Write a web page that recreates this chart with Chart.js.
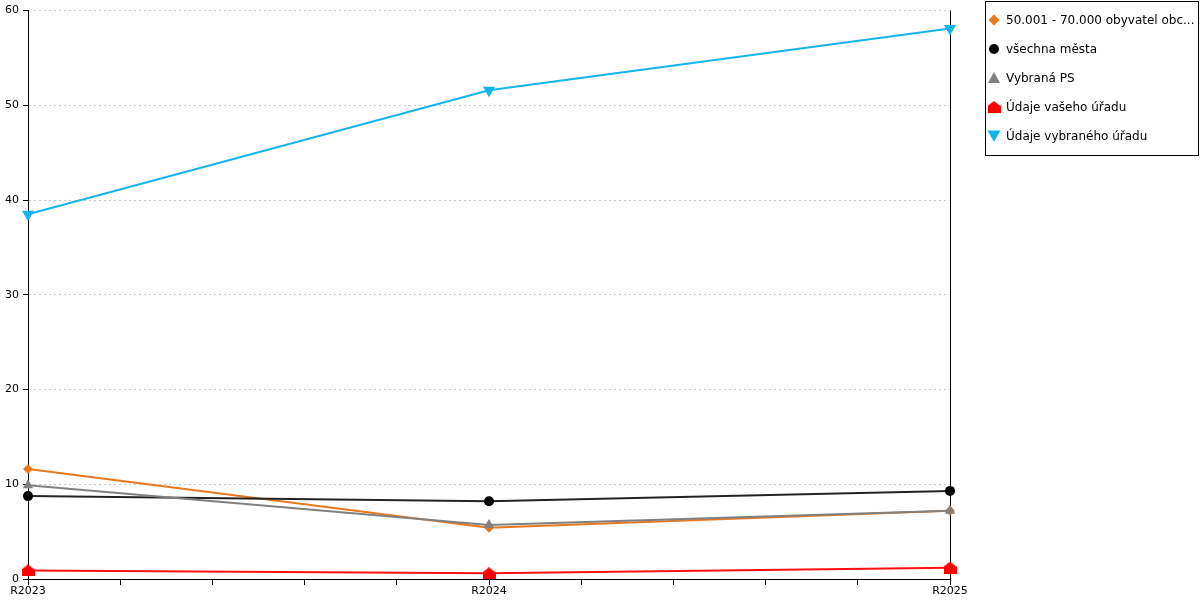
<!DOCTYPE html>
<html>
<head>
<meta charset="utf-8">
<script src="https://cdn.jsdelivr.net/npm/chart.js@4/dist/chart.umd.min.js"></script>
<style>
  html, body { margin: 0; padding: 0; background: #fff; }
  #wrap { position: relative; width: 1200px; height: 600px; }
  #legend {
    position: absolute; left: 985px; top: 1px; width: 214px; height: 155px;
    border: 1px solid #000; box-sizing: border-box;
    font-family: "DejaVu Sans", sans-serif; font-size: 12px; color: #000;
  }
  .item { position: absolute; left: 0; height: 16px; line-height: 16px; white-space: nowrap; }
  .item canvas { position: absolute; left: 1px; top: 1px; }
  .item span { position: absolute; left: 20px; top: 0; }
</style>
</head>
<body>
<div id="wrap">
  <canvas id="chart" width="1200" height="600"></canvas>
  <div id="legend"></div>
</div>
<script>
const categories = ['R2023', 'R2024', 'R2025'];
const labels = [
  '50.001 - 70.000 obyvatel obc...',
  'všechna města',
  'Vybraná PS',
  'Údaje vašeho úřadu',
  'Údaje vybraného úřadu'
];
const skupinaObce = [11.6, 5.4, 7.2];
const vsechnaMesta = [8.75, 8.2, 9.3];
const vybranaPS = [9.9, 5.7, 7.2];
const vasUrad = [0.9, 0.6, 1.2];
const vybranyUrad = [38.5, 51.6, 58.1];
const yTicks = [0, 10, 20, 30, 40, 50, 60];

const colors = ['#e8781e', '#000000', '#808080', '#ff0000', '#14b4ec'];
const lineColors = ['#e8781e', '#222222', '#808080', '#ff1010', '#14b4ec'];

// house-shaped marker for "Údaje vašeho úřadu"
function houseIcon(color) {
  const c = document.createElement('canvas');
  c.width = 13; c.height = 12;
  const g = c.getContext('2d');
  g.fillStyle = color;
  g.beginPath();
  g.moveTo(6.5, 0); g.lineTo(13, 5); g.lineTo(13, 12); g.lineTo(0, 12); g.lineTo(0, 5);
  g.closePath(); g.fill();
  return c;
}
const house = houseIcon('#ff0000');

const styles = [
  { pointStyle: 'rectRot', radius: 5, rotation: 0 },
  { pointStyle: 'circle', radius: 5, rotation: 0 },
  { pointStyle: 'triangle', radius: 6, rotation: 0 },
  { pointStyle: house, radius: 6, rotation: 0 },
  { pointStyle: 'triangle', radius: 7, rotation: 180 }
];

const series = [skupinaObce, vsechnaMesta, vybranaPS, vasUrad, vybranyUrad];

const datasets = series.map((vals, i) => ({
  label: labels[i],
  data: vals.map((v, k) => ({ x: k, y: v })),
  borderColor: lineColors[i],
  backgroundColor: colors[i],
  pointBackgroundColor: colors[i],
  pointBorderColor: colors[i],
  pointBorderWidth: 0,
  borderWidth: 2,
  pointStyle: styles[i].pointStyle,
  pointRadius: styles[i].radius,
  pointRotation: styles[i].rotation,
  tension: 0,
  clip: false,
  order: series.length - i
}));

new Chart(document.getElementById('chart'), {
  type: 'line',
  data: { datasets },
  options: {
    responsive: false,
    animation: false,
    layout: { padding: { top: 10, right: 250, left: 0, bottom: 0 } },
    plugins: { legend: { display: false }, tooltip: { enabled: false } },
    scales: {
      x: {
        type: 'linear',
        min: 0, max: 2,
        afterFit: (s) => { s.height = 21; },
        afterBuildTicks: (s) => {
          s.ticks = [];
          for (let i = 0; i <= 10; i++) s.ticks.push({ value: i / 5 });
        },
        ticks: {
          autoSkip: false, maxRotation: 0, padding: 0,
          font: { family: 'DejaVu Sans', size: 11 }, color: '#000',
          callback: (v) => {
            const r = Math.round(v);
            return Math.abs(v - r) < 1e-6 ? categories[r] : '';
          }
        },
        grid: {
          drawOnChartArea: true,
          tickLength: 6,
          tickColor: '#000',
          color: (c) => (c.tick && Math.abs(c.tick.value - 2) < 1e-6 ? '#000' : 'rgba(0,0,0,0)'),
          lineWidth: 1
        },
        border: { display: true, color: '#000', width: 1 }
      },
      y: {
        min: 0, max: 60,
        afterFit: (s) => { s.width = 28; },
        afterBuildTicks: (s) => { s.ticks = yTicks.map((v) => ({ value: v })); },
        ticks: {
          padding: 4,
          font: { family: 'DejaVu Sans', size: 11 }, color: '#000'
        },
        grid: {
          tickLength: 5,
          tickColor: '#000',
          tickBorderDash: [],
          color: (c) => (c.tick && c.tick.value === 0 ? 'rgba(0,0,0,0)' : '#c8c8c8'),
          lineWidth: 1
        },
        border: { display: true, color: '#000', width: 1, dash: [2, 3] }
      }
    }
  }
});

// legend
function drawMarker(g, i, cx, cy) {
  const st = styles[i];
  g.fillStyle = colors[i];
  g.beginPath();
  if (st.pointStyle === 'circle') {
    g.arc(cx, cy, 5, 0, Math.PI * 2);
  } else if (st.pointStyle === 'rectRot') {
    g.moveTo(cx, cy - 5.5); g.lineTo(cx + 5.5, cy); g.lineTo(cx, cy + 5.5); g.lineTo(cx - 5.5, cy);
  } else if (st.pointStyle === 'triangle' && st.rotation === 180) {
    g.moveTo(cx - 6.5, cy - 5.5); g.lineTo(cx + 6.5, cy - 5.5); g.lineTo(cx, cy + 6);
  } else if (st.pointStyle === 'triangle') {
    g.moveTo(cx, cy - 6); g.lineTo(cx + 6, cy + 5); g.lineTo(cx - 6, cy + 5);
  } else {
    g.drawImage(st.pointStyle, cx - 6.5, cy - 6);
    return;
  }
  g.closePath();
  g.fill();
}

const legendEl = document.getElementById('legend');
const rowCenters = [19, 48, 77, 106, 135];
labels.forEach((lab, i) => {
  const row = document.createElement('div');
  row.className = 'item';
  row.style.top = (rowCenters[i] - 8 - 1) + 'px';
  const cv = document.createElement('canvas');
  cv.width = 14; cv.height = 14;
  drawMarker(cv.getContext('2d'), i, 7, 7);
  const sp = document.createElement('span');
  sp.textContent = lab;
  row.appendChild(cv);
  row.appendChild(sp);
  legendEl.appendChild(row);
});
</script>
</body>
</html>
